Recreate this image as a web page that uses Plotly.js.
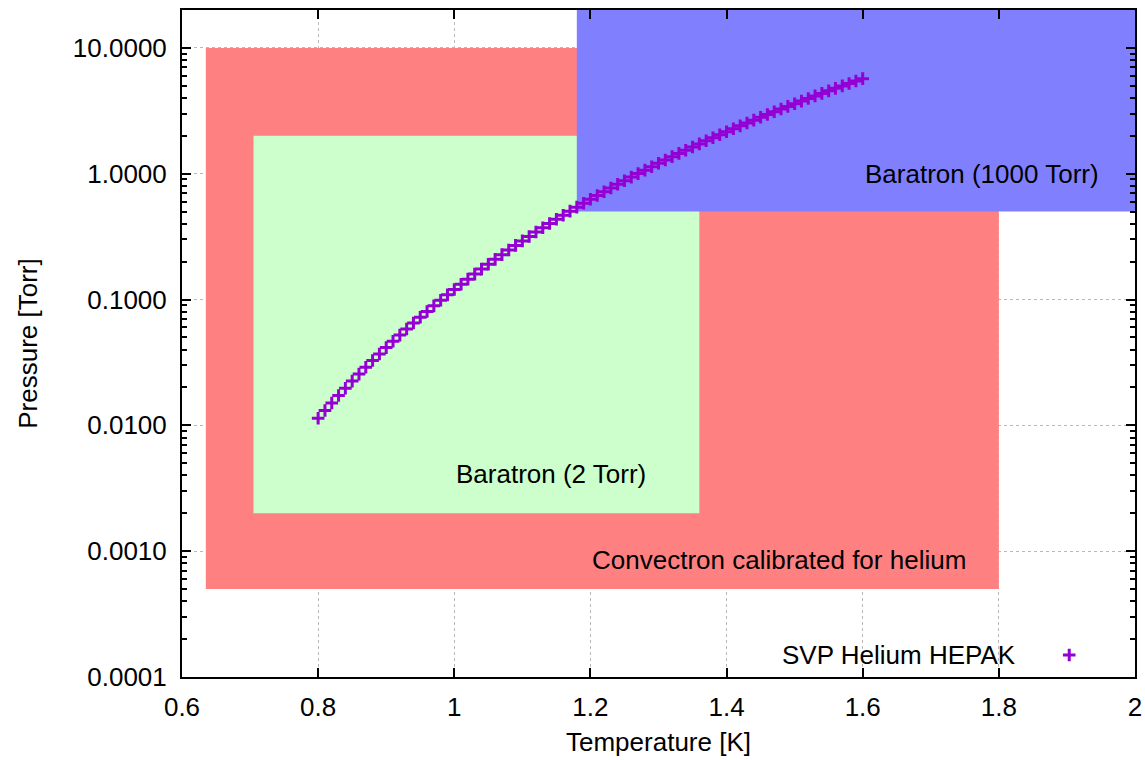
<!DOCTYPE html>
<html>
<head>
<meta charset="utf-8">
<script src="https://cdn.plot.ly/plotly-3.0.1.min.js"></script>
<style>html,body{margin:0;padding:0;background:#fff;}#chart{width:1145px;height:760px;}</style>
</head>
<body>
<div id="chart"></div>
<script>
// Temperature [K]
const temperature = [
 0.80,0.81,0.82,0.83,0.84,0.85,0.86,0.87,0.88,0.89,
 0.90,0.91,0.92,0.93,0.94,0.95,0.96,0.97,0.98,0.99,
 1.00,1.01,1.02,1.03,1.04,1.05,1.06,1.07,1.08,1.09,
 1.10,1.11,1.12,1.13,1.14,1.15,1.16,1.17,1.18,1.19,
 1.20,1.21,1.22,1.23,1.24,1.25,1.26,1.27,1.28,1.29,
 1.30,1.31,1.32,1.33,1.34,1.35,1.36,1.37,1.38,1.39,
 1.40,1.41,1.42,1.43,1.44,1.45,1.46,1.47,1.48,1.49,
 1.50,1.51,1.52,1.53,1.54,1.55,1.56,1.57,1.58,1.59,1.60];
// SVP Helium (HEPAK) pressure [Torr]
const pressure = [
 0.01138,0.01312,0.01507,0.01727,0.01973,0.02248,0.02554,0.02895,0.03272,0.03689,
 0.04150,0.04658,0.05217,0.05829,0.06501,0.07234,0.08035,0.08907,0.09856,0.1089,
 0.1200,0.1321,0.1452,0.1593,0.1745,0.1909,0.2085,0.2274,0.2476,0.2693,
 0.2925,0.3173,0.3438,0.3720,0.4020,0.4340,0.4680,0.5040,0.5423,0.5829,
 0.6258,0.6712,0.7192,0.7699,0.8234,0.8798,0.9393,1.0018,1.0676,1.1368,
 1.2095,1.2858,1.3658,1.4497,1.5375,1.6295,1.7257,1.8263,1.9314,2.0412,
 2.1558,2.2755,2.4001,2.5300,2.6653,2.8061,2.9527,3.1051,3.2634,3.4280,
 3.5989,3.7762,3.9602,4.1510,4.3489,4.5539,4.7661,4.9858,5.2132,5.4484,5.6916];

// Gauge ranges: [Tmin, Tmax], [Pmin, Pmax]
const convectronT = [0.635, 1.8];
const convectronP = [0.0005, 10];
const baratron2T = [0.705, 1.36];
const baratron2P = [0.002, 2];
const baratron1000T = [1.18, 2.0];
const baratron1000P = [0.5, 20];

const gaugeLabels = ["Convectron calibrated for helium", "Baratron (2 Torr)", "Baratron (1000 Torr)"];
const gaugeLabelT = [1.2, 1.0, 1.6];
const gaugeLabelP = [0.00085, 0.0041, 1.0];

const xTicks = [0.6, 0.8, 1.0, 1.2, 1.4, 1.6, 1.8, 2.0];
const xTickText = ["0.6", "0.8", "1", "1.2", "1.4", "1.6", "1.8", "2"];
const yTicks = [0.0001, 0.001, 0.01, 0.1, 1, 10];
const yTickText = ["0.0001", "0.0010", "0.0100", "0.1000", "1.0000", "10.0000"];
const yMinorTicks = [
  0.0002,0.0003,0.0004,0.0005,0.0006,0.0007,0.0008,0.0009,
  0.002,0.003,0.004,0.005,0.006,0.007,0.008,0.009,
  0.02,0.03,0.04,0.05,0.06,0.07,0.08,0.09,
  0.2,0.3,0.4,0.5,0.6,0.7,0.8,0.9,
  2,3,4,5,6,7,8,9,20];
const seriesName = "SVP Helium HEPAK";

const FONT = "Liberation Sans, Arial, sans-serif";
const FS = 26;

function rect(t, p, color) {
  return {type: "rect", xref: "x", yref: "y", x0: t[0], x1: t[1], y0: p[0], y1: p[1],
          fillcolor: color, line: {width: 0}, layer: "between"};
}

const trace = {
  x: temperature, y: pressure, type: "scatter", mode: "markers", name: " ",
  marker: {symbol: "cross-thin", size: 9, color: "#9400d3", line: {color: "#9400d3", width: 3}},
  showlegend: true, hoverinfo: "x+y"
};

const axisCommon = {
  showline: true, linecolor: "#000", linewidth: 2, mirror: "allticks",
  ticks: "inside", ticklen: 9, tickwidth: 2, tickcolor: "#000",
  showgrid: true, gridcolor: "#b8b8b8", griddash: "dot", gridwidth: 1,
  zeroline: false, tickfont: {family: FONT, size: FS, color: "#000"}
};

const layout = {
  width: 1145, height: 760,
  margin: {l: 182, r: 10, t: 10, b: 83},
  paper_bgcolor: "#fff", plot_bgcolor: "#fff",
  font: {family: FONT, size: FS, color: "#000"},
  xaxis: Object.assign({}, axisCommon, {
    range: [0.6, 2.0], tickvals: xTicks, ticktext: xTickText, tickmode: "array",
    ticklabelstandoff: 6,
    title: {text: "Temperature [K]", font: {family: FONT, size: FS, color: "#000"}, standoff: 12}
  }),
  yaxis: Object.assign({}, axisCommon, {
    type: "log", range: [-4, Math.log10(20)], tickvals: yTicks, ticktext: yTickText, tickmode: "array",
    ticklabelstandoff: 8,
    minor: {ticks: "inside", ticklen: 5, tickwidth: 2, tickcolor: "#000", showgrid: false, tickvals: yMinorTicks},
    title: {text: "Pressure [Torr]", font: {family: FONT, size: FS, color: "#000"}, standoff: 28}
  }),
  shapes: [
    rect(convectronT, convectronP, "#ff8080"),
    rect(baratron2T, baratron2P, "#ccffcc"),
    rect(baratron1000T, baratron1000P, "#8080ff")
  ],
  annotations: gaugeLabels.map((txt, i) => ({
    x: gaugeLabelT[i], y: Math.log10(gaugeLabelP[i]), xref: "x", yref: "y", text: txt,
    showarrow: false, xanchor: "left", yanchor: "middle", font: {family: FONT, size: FS, color: "#000"}
  })).concat([{
    x: 0.877, y: 0.033, xref: "paper", yref: "paper", text: seriesName, showarrow: false,
    xanchor: "right", yanchor: "middle", font: {family: FONT, size: FS, color: "#000"}
  }]),
  showlegend: true,
  legend: {x: 0.91, y: 0.033, xanchor: "left", yanchor: "middle", bgcolor: "rgba(0,0,0,0)",
           font: {family: FONT, size: 20}, itemwidth: 30}
};

Plotly.newPlot("chart", [trace], layout, {displayModeBar: false, staticPlot: true});
</script>
</body>
</html>
